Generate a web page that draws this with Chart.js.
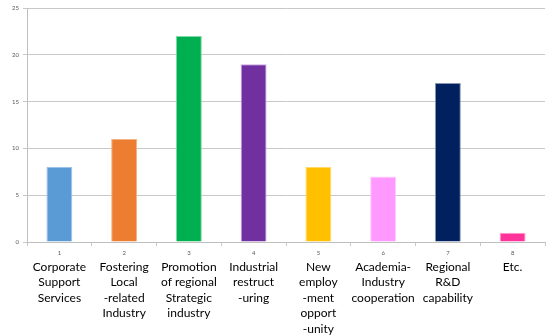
<!DOCTYPE html>
<html lang="en">
<head>
    <meta charset="UTF-8">
    <title>Policy areas</title>
    <script src="https://cdn.jsdelivr.net/npm/chart.js"></script>
    <style>
        html, body { margin: 0; padding: 0; background: #fff; }
        #wrap { width: 547px; height: 336px; }
    </style>
</head>
<body>
    <div id="wrap"><canvas id="grafica" width="547" height="336"></canvas></div>

    <script>
        // datos
        const numeros = ['1', '2', '3', '4', '5', '6', '7', '8'];
        const categorias = [
            ['Corporate', 'Support', 'Services'],
            ['Fostering', 'Local', '-related', 'Industry'],
            ['Promotion', 'of regional', 'Strategic', 'industry'],
            ['Industrial', 'restruct', '-uring'],
            ['New', 'employ', '-ment', 'opport', '-unity'],
            ['Academia-', 'Industry', 'cooperation'],
            ['Regional', 'R&D', 'capability'],
            ['Etc.']
        ];
        const valores = [8, 11, 22, 19, 8, 7, 17, 1];
        const yTicks = [0, 5, 10, 15, 20, 25];

        const colores = ['#5B9BD5', '#ED7D31', '#00B050', '#7030A0', '#FFC000', '#FF99FF', '#002060', '#FF3399'];
        const bordes = ['#9DC3E6', '#F4B183', '#7FD8A7', '#C9A6E4', '#FFD966', '#FFCCFF', '#8497B0', '#FF99CC'];

        const ctx = document.getElementById('grafica').getContext('2d');
        new Chart(ctx, {
            type: 'bar',
            data: {
                labels: numeros,
                datasets: [{
                    data: valores,
                    backgroundColor: colores,
                    borderColor: bordes,
                    borderWidth: { top: 1, left: 1, right: 1, bottom: 0 },
                    categoryPercentage: 1,
                    barPercentage: 0.4,
                    xAxisID: 'x'
                }]
            },
            options: {
                responsive: false,
                animation: false,
                layout: { padding: { top: 8, right: 2, left: 0, bottom: 0 } },
                plugins: {
                    legend: { display: false },
                    tooltip: { enabled: false }
                },
                scales: {
                    y: {
                        min: 0,
                        max: 25,
                        afterBuildTicks: s => { s.ticks = yTicks.map(v => ({ value: v })); },
                        afterFit: s => { s.width = 27; },
                        border: { color: '#BFBFBF' },
                        grid: { color: '#C8C8C8', tickLength: 4 },
                        ticks: { font: { family: 'Lato', size: 6 }, color: '#595959', padding: 4 }
                    },
                    x: {
                        position: 'bottom',
                        afterFit: s => { s.height = 14; },
                        border: { color: '#BFBFBF' },
                        grid: { offset: true, drawOnChartArea: false, color: '#C8C8C8', tickLength: 4 },
                        ticks: { font: { family: 'Lato', size: 6 }, color: '#595959', padding: 3 }
                    },
                    x2: {
                        type: 'category',
                        position: 'bottom',
                        labels: categorias,
                        afterFit: s => { s.height = 80; },
                        border: { display: false },
                        grid: { display: false, drawTicks: false },
                        ticks: {
                            font: { family: 'Lato', size: 12, lineHeight: 1.3 },
                            color: '#000',
                            padding: 3,
                            maxRotation: 0,
                            autoSkip: false
                        }
                    }
                }
            }
        });
    </script>
</body>
</html>
